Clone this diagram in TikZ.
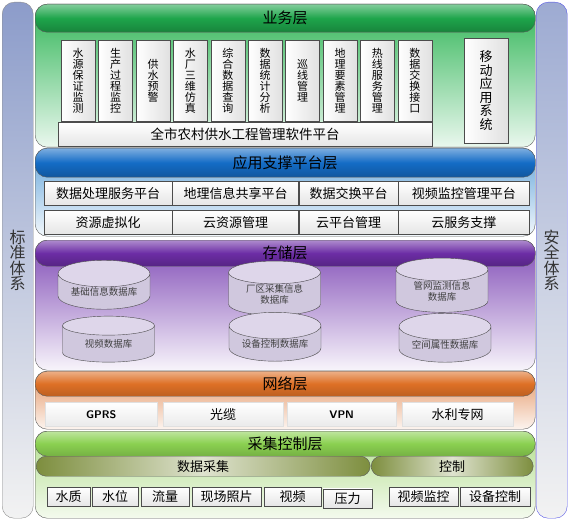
\documentclass[tikz,border=0pt]{standalone}
\usepackage{fontspec}
\setmainfont{Noto Sans CJK SC}
\usetikzlibrary{positioning,shapes.geometric}
\definecolor{bizhd}{RGB}{30,165,75}
\definecolor{bizbody}{RGB}{50,182,88}
\definecolor{apphd}{RGB}{20,108,198}
\definecolor{appbody}{RGB}{100,165,218}
\definecolor{stohd}{RGB}{108,45,165}
\definecolor{stobody}{RGB}{128,75,182}
\definecolor{nethd}{RGB}{222,112,38}
\definecolor{netbody}{RGB}{228,148,98}
\definecolor{colhd}{RGB}{138,208,80}
\definecolor{colbody}{RGB}{178,222,140}
\definecolor{subhd}{RGB}{125,142,62}
\definecolor{dbtop}{RGB}{222,214,234}
\definecolor{dbbody}{RGB}{208,200,222}
\definecolor{sidebar}{RGB}{140,156,202}
\definecolor{secline}{RGB}{85,85,230}

\begin{document}
\begin{tikzpicture}[x=1pt,y=-1pt,
  layer/.style={draw=black!65,rounded corners=12pt,anchor=north west,minimum width=500pt,inner sep=0pt},
  head/.style={draw=black!65,rounded corners=12pt,anchor=north west,minimum width=500pt,inner sep=0pt,font=\fontsize{15}{17}\selectfont},
  subhead/.style={draw=black!65,rounded corners=10pt,anchor=north west,minimum height=20pt,inner sep=0pt,left color=subhd,right color=subhd,middle color=subhd!25!white,font=\fontsize{13}{15}\selectfont},
  vbox/.style={draw=black!70,left color=white,right color=black!12,anchor=north west,minimum width=34pt,minimum height=81pt,inner sep=0pt,align=center,font=\fontsize{11}{11}\selectfont},
  hbox/.style={draw=black!70,top color=white,bottom color=black!10,anchor=north west,minimum height=24pt,inner sep=0pt,font=\fontsize{13}{15}\selectfont},
  netbox/.style={draw=black!12,top color=white,bottom color=black!8,anchor=north west,minimum height=24pt,inner sep=0pt,font=\fontsize{13}{15}\selectfont},
  tag/.style={draw=black!70,top color=white,bottom color=black!10,anchor=north west,minimum height=19pt,inner sep=0pt,font=\fontsize{13}{15}\selectfont},
  db/.style={cylinder,shape border rotate=90,aspect=0.4,draw=black!70,cylinder uses custom fill,cylinder end fill=dbtop,cylinder body fill=dbbody,minimum width=92pt,minimum height=46pt,align=center,inner sep=0pt,font=\fontsize{9.5}{11}\selectfont\color{black!75}},
  side/.style={rounded corners=12pt,minimum width=31pt,minimum height=516pt,anchor=north west,inner sep=0pt,align=center,font=\fontsize{16}{15.5}\selectfont\color{black!80}}
]
\useasboundingbox (0,0) rectangle (572,521);

\node[side,draw=black!45,top color=sidebar,bottom color=black!5] (std) at (2,2) {标\\准\\体\\系};
\node[side,draw=secline,top color=sidebar!85!white,bottom color=black!5] (sec) at (536,2) {安\\全\\体\\系};

% 业务层
\node[layer,minimum height=143pt,top color=bizbody,bottom color=bizbody!10!white] (biz) at (35,4) {};
\node[head,minimum height=28pt,top color=bizhd!55!white,bottom color=bizhd!80!black,middle color=bizhd] (bizh) at (35,4) {业务层};
\node[vbox] (v1) at (61,40) {水\\源\\保\\证\\监\\测};
\node[vbox,right=3pt of v1] (v2) {生\\产\\过\\程\\监\\控};
\node[vbox,right=3pt of v2] (v3) {供\\水\\预\\警};
\node[vbox,right=3pt of v3] (v4) {水\\厂\\三\\维\\仿\\真};
\node[vbox,right=3pt of v4] (v5) {综\\合\\数\\据\\查\\询};
\node[vbox,right=3pt of v5] (v6) {数\\据\\统\\计\\分\\析};
\node[vbox,right=3pt of v6] (v7) {巡\\线\\管\\理};
\node[vbox,right=3pt of v7] (v8) {地\\理\\要\\素\\管\\理};
\node[vbox,right=3pt of v8] (v9) {热\\线\\服\\务\\管\\理};
\node[vbox,right=3pt of v9] (v10) {数\\据\\交\\换\\接\\口};
\node[vbox,minimum width=44pt,minimum height=105pt,font=\fontsize{13}{13.5}\selectfont] (mobile) at (464,38) {移\\动\\应\\用\\系\\统};
\node[hbox,minimum width=374pt,font=\fontsize{13.5}{15}\selectfont] (plat) at (58,122) {全市农村供水工程管理软件平台};

% 应用支撑平台层
\node[layer,minimum height=88pt,top color=appbody,bottom color=appbody!8!white] (app) at (35,148) {};
\node[head,minimum height=29pt,top color=apphd!55!white,bottom color=apphd!80!black,middle color=apphd] (apph) at (35,148) {应用支撑平台层};
\node[hbox,minimum width=128pt] (a1) at (44,181) {数据处理服务平台};
\node[hbox,minimum width=126pt,right=0pt of a1] (a2) {地理信息共享平台};
\node[hbox,minimum width=99pt,right=0pt of a2] (a3) {数据交换平台};
\node[hbox,minimum width=131pt,right=0pt of a3] (a4) {视频监控管理平台};
\node[hbox,minimum width=128pt] (c1) at (44,210) {资源虚拟化};
\node[hbox,minimum width=126pt,right=0pt of c1] (c2) {云资源管理};
\node[hbox,minimum width=99pt,right=0pt of c2] (c3) {云平台管理};
\node[hbox,minimum width=131pt,right=0pt of c3] (c4) {云服务支撑};

% 存储层
\node[layer,minimum height=130pt,top color=stobody,bottom color=stobody!6!white] (sto) at (35,240) {};
\node[head,minimum height=26pt,top color=stohd!55!white,bottom color=stohd!80!black,middle color=stohd] (stoh) at (35,240) {存储层};
\node[db] (db1) at (104,291.5) {基础信息数据库};
\node[db] (db2) at (108.5,344) {视频数据库};
\node[db] (db3) at (274.5,294) {厂区采集信息\\数据库};
\node[db] (db4) at (275,343.5) {设备控制数据库};
\node[db] (db5) at (442,291) {管网监测信息\\数据库};
\node[db] (db6) at (445,344.5) {空间属性数据库};

% 网络层
\node[layer,minimum height=58pt,top color=netbody,bottom color=netbody!10!white] (net) at (35,371) {};
\node[head,minimum height=25pt,top color=nethd!55!white,bottom color=nethd!85!black,middle color=nethd] (neth) at (35,371) {网络层};
\node[netbox,minimum width=112pt,font=\sffamily\bfseries\fontsize{11}{13}\selectfont] (gprs) at (45,402) {GPRS};
\node[netbox,minimum width=120pt] (fiber) at (163,402) {光缆};
\node[netbox,minimum width=109pt,font=\sffamily\bfseries\fontsize{11}{13}\selectfont] (vpn) at (287,402) {VPN};
\node[netbox,minimum width=111pt] (wnet) at (402,402) {水利专网};

% 采集控制层
\node[layer,minimum height=87pt,top color=colbody,bottom color=colbody!15!white] (col) at (35,431) {};
\node[head,minimum height=25pt,top color=colhd!55!white,bottom color=colhd!85!black,middle color=colhd] (colh) at (35,431) {采集控制层};
\node[subhead,minimum width=334pt] (acq) at (36,456) {数据采集};
\node[subhead,minimum width=162pt] (ctl) at (371,456) {控制};
\node[tag,minimum width=43pt] (t1) at (47,487) {水质};
\node[tag,minimum width=46pt] (t2) at (92,487) {水位};
\node[tag,minimum width=48pt] (t3) at (141,487) {流量};
\node[tag,minimum width=69pt] (t4) at (192,487) {现场照片};
\node[tag,minimum width=57pt] (t5) at (264,487) {视频};
\node[tag,minimum width=49pt] (t6) at (323,488.5) {压力};
\node[tag,minimum width=69pt] (t7) at (389,487) {视频监控};
\node[tag,minimum width=70pt] (t8) at (460,487) {设备控制};
\end{tikzpicture}
\end{document}
